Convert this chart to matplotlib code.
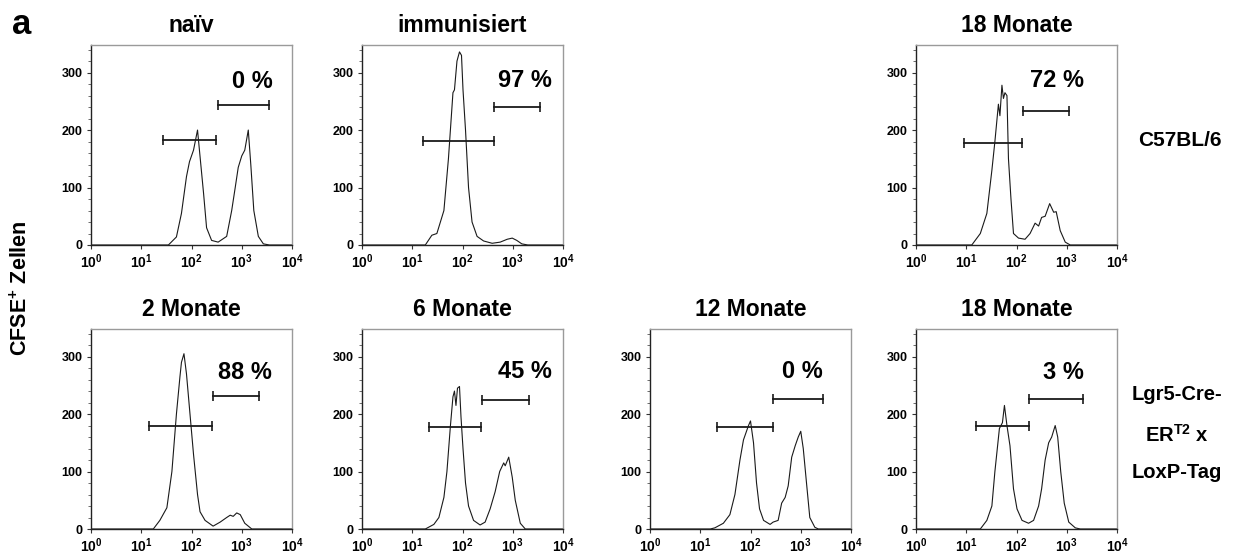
"""CFSE proliferation histograms: C57BL/6 vs Lgr5-Cre-ERT2 x LoxP-Tag."""

import matplotlib
matplotlib.use("Agg")
import matplotlib.pyplot as plt
import numpy as np
from matplotlib.ticker import FixedLocator, LogLocator, MultipleLocator, NullFormatter

plt.rcParams["font.family"] = ["Liberation Sans", "DejaVu Sans"]
plt.rcParams["font.weight"] = "bold"
plt.rcParams["mathtext.fontset"] = "custom"
plt.rcParams["mathtext.rm"] = "Liberation Sans:bold"
plt.rcParams["mathtext.bf"] = "Liberation Sans:bold"
plt.rcParams["mathtext.it"] = "Liberation Sans:bold"

# curves: CFSE intensity as log10 decade, cell count
naiv_log = [0.0, 1.54, 1.70, 1.80, 1.90, 1.96, 2.04, 2.12, 2.17, 2.24, 2.30, 2.40, 2.53, 2.70, 2.80,
            2.87, 2.93, 3.00, 3.06, 3.13, 3.18, 3.24, 3.33, 3.43, 3.55, 4.0]
naiv_count = [0, 0, 14, 55, 119, 145, 165, 200, 154, 90, 30, 8, 5, 15, 60,
              100, 135, 155, 165, 200, 140, 60, 15, 2, 0, 0]

immun_log = [0.0, 1.26, 1.39, 1.49, 1.63, 1.72, 1.81, 1.84, 1.89, 1.94, 1.98, 2.01, 2.06, 2.12,
             2.19, 2.29, 2.42, 2.59, 2.75, 2.89, 2.99, 3.08, 3.18, 3.30, 4.0]
immun_count = [0, 0, 17, 20, 60, 150, 265, 270, 320, 336, 330, 270, 200, 100,
               40, 15, 7, 3, 5, 10, 12, 8, 2, 0, 0]

wt18_log = [0.0, 1.11, 1.28, 1.41, 1.51, 1.57, 1.64, 1.67, 1.71, 1.74, 1.77, 1.81, 1.84, 1.89,
            1.94, 2.04, 2.17, 2.27, 2.37, 2.44, 2.50, 2.57, 2.66, 2.74, 2.79, 2.87, 2.97, 3.07, 4.0]
wt18_count = [0, 0, 20, 55, 130, 180, 245, 225, 278, 255, 265, 260, 150, 80,
              20, 12, 10, 20, 38, 33, 48, 50, 72, 57, 58, 25, 5, 0, 0]

m2_log = [0.0, 1.24, 1.37, 1.51, 1.61, 1.70, 1.77, 1.80, 1.85, 1.90, 1.97, 2.04, 2.12, 2.17,
          2.27, 2.43, 2.57, 2.70, 2.77, 2.83, 2.90, 2.97, 3.06, 3.20, 4.0]
m2_count = [0, 0, 15, 37, 100, 200, 265, 290, 305, 270, 200, 130, 60, 30,
            15, 5, 12, 20, 24, 22, 28, 25, 10, 0, 0]

m6_log = [0.0, 1.26, 1.43, 1.53, 1.63, 1.69, 1.76, 1.81, 1.84, 1.87, 1.90, 1.94, 1.97, 2.01,
          2.06, 2.12, 2.22, 2.35, 2.45, 2.55, 2.65, 2.74, 2.82, 2.85, 2.92, 2.99, 3.05, 3.15, 3.25, 4.0]
m6_count = [0, 0, 8, 20, 55, 100, 180, 230, 240, 215, 245, 248, 195, 140,
            80, 40, 15, 7, 12, 35, 65, 100, 115, 110, 125, 90, 50, 10, 0, 0]

m12_log = [0.0, 1.20, 1.29, 1.46, 1.59, 1.69, 1.79, 1.86, 1.96, 2.00, 2.06, 2.12, 2.18, 2.26,
           2.39, 2.45, 2.55, 2.62, 2.69, 2.75, 2.82, 2.89, 2.95, 3.00, 3.05, 3.12, 3.18, 3.28, 3.35, 4.0]
m12_count = [0, 0, 2, 10, 25, 60, 120, 155, 180, 188, 150, 80, 35, 15,
             8, 12, 15, 45, 55, 75, 125, 145, 160, 170, 140, 75, 20, 3, 0, 0]

m18_log = [0.0, 1.28, 1.41, 1.51, 1.57, 1.66, 1.72, 1.76, 1.81, 1.87, 1.94, 2.01, 2.11, 2.24,
           2.34, 2.44, 2.50, 2.57, 2.64, 2.70, 2.77, 2.82, 2.88, 2.95, 3.04, 3.17, 3.27, 4.0]
m18_count = [0, 0, 15, 40, 100, 175, 185, 215, 180, 145, 70, 35, 15, 10,
             15, 40, 70, 120, 150, 160, 180, 160, 100, 45, 12, 2, 0, 0]

# gates: (start, end) decades and height; percentage of divided cells
titles = ["naïv", "immunisiert", "18 Monate", "2 Monate", "6 Monate", "12 Monate", "18 Monate"]
percents = ["0 %", "97 %", "72 %", "88 %", "45 %", "0 %", "3 %"]
percent_pos = [(3.62, 284), (3.78, 287), (3.34, 287), (3.60, 272), (3.78, 274), (3.43, 274), (3.34, 273)]
left_gates = [(1.44, 2.49, 183), (1.21, 2.62, 181), (0.96, 2.11, 178), (1.16, 2.41, 180),
              (1.33, 2.37, 177), (1.34, 2.45, 178), (1.19, 2.24, 180)]
right_gates = [(2.52, 3.55, 243), (2.63, 3.55, 240), (2.12, 3.04, 233), (2.42, 3.34, 232),
               (2.39, 3.32, 225), (2.45, 3.44, 226), (2.25, 3.32, 226)]
curves = [(naiv_log, naiv_count), (immun_log, immun_count), (wt18_log, wt18_count),
          (m2_log, m2_count), (m6_log, m6_count), (m12_log, m12_count), (m18_log, m18_count)]

W, H = 1236, 555
# axes boxes in pixels: left, right, top, bottom
boxes = [(91, 292, 45, 245), (362, 563, 45, 245), (916, 1117, 45, 245),
         (91, 292, 329, 529), (362, 563, 329, 529), (650, 851, 329, 529), (916, 1117, 329, 529)]

fig = plt.figure(figsize=(W / 100, H / 100), dpi=100)


def _decade(value, _pos):
    return r"$\mathbf{10^{%d}}$" % round(np.log10(value))


for i, (l, r, t, b) in enumerate(boxes):
    ax = fig.add_axes([l / W, 1 - b / H, (r - l) / W, (b - t) / H])
    xs, ys = curves[i]
    ax.plot(np.power(10.0, xs), ys, color="#1a1a1a", lw=0.8)
    for x0, x1, y in (left_gates[i], right_gates[i]):
        ax.plot(np.power(10.0, [x0, x1]), [y, y], color="#1a1a1a", lw=1.3,
                marker="|", markersize=6.5, markeredgewidth=1.2)
    px, py = percent_pos[i]
    ax.text(10 ** px, py, percents[i], ha="right", va="center", fontsize=17, fontweight="bold")
    ax.set_xscale("log")
    ax.set_xlim(1, 1e4)
    ax.set_ylim(0, 348)
    ax.xaxis.set_major_locator(FixedLocator([1, 10, 100, 1000, 10000]))
    ax.xaxis.set_minor_locator(LogLocator(base=10, subs=np.arange(2, 10)))
    ax.xaxis.set_minor_formatter(NullFormatter())
    ax.xaxis.set_major_formatter(plt.FuncFormatter(_decade))
    ax.yaxis.set_major_locator(FixedLocator([0, 100, 200, 300]))
    ax.yaxis.set_minor_locator(MultipleLocator(20))
    ax.tick_params(which="major", length=3, width=0.8, pad=2, color="#333333")
    ax.tick_params(axis="x", which="major", labelsize=10)
    ax.tick_params(axis="y", which="major", labelsize=9, pad=3)
    ax.tick_params(which="minor", length=2, width=0.6, color="#555555")
    for lab in ax.get_yticklabels():
        lab.set_fontweight("bold")
    for side in ("left", "bottom"):
        ax.spines[side].set_color("#222222")
        ax.spines[side].set_linewidth(1.0)
    for side in ("top", "right"):
        ax.spines[side].set_color("#9a9a9a")
        ax.spines[side].set_linewidth(1.0)
    title_y = 26 if t < 100 else 310
    fig.text((l + r) / 2 / W, 1 - title_y / H, titles[i], ha="center", va="center",
             fontsize=16.5, fontweight="bold")

fig.text(22 / W, 1 - 25 / H, "a", ha="center", va="center", fontsize=25, fontweight="bold")
fig.text(21 / W, 1 - 288 / H, r"CFSE$^{\mathbf{+}}$ Zellen", rotation=90, ha="center",
         va="center", fontsize=15.5, fontweight="bold")
fig.text(1180 / W, 1 - 140 / H, "C57BL/6", ha="center", va="center", fontsize=15, fontweight="bold")
fig.text(1177 / W, 1 - 395 / H, "Lgr5-Cre-", ha="center", va="center", fontsize=14.5, fontweight="bold")
fig.text(1177 / W, 1 - 435 / H, r"ER$^{\mathbf{T2}}$ x", ha="center", va="center", fontsize=14.5,
         fontweight="bold")
fig.text(1177 / W, 1 - 473 / H, "LoxP-Tag", ha="center", va="center", fontsize=14.5, fontweight="bold")

fig.savefig("out.png", dpi=100)
